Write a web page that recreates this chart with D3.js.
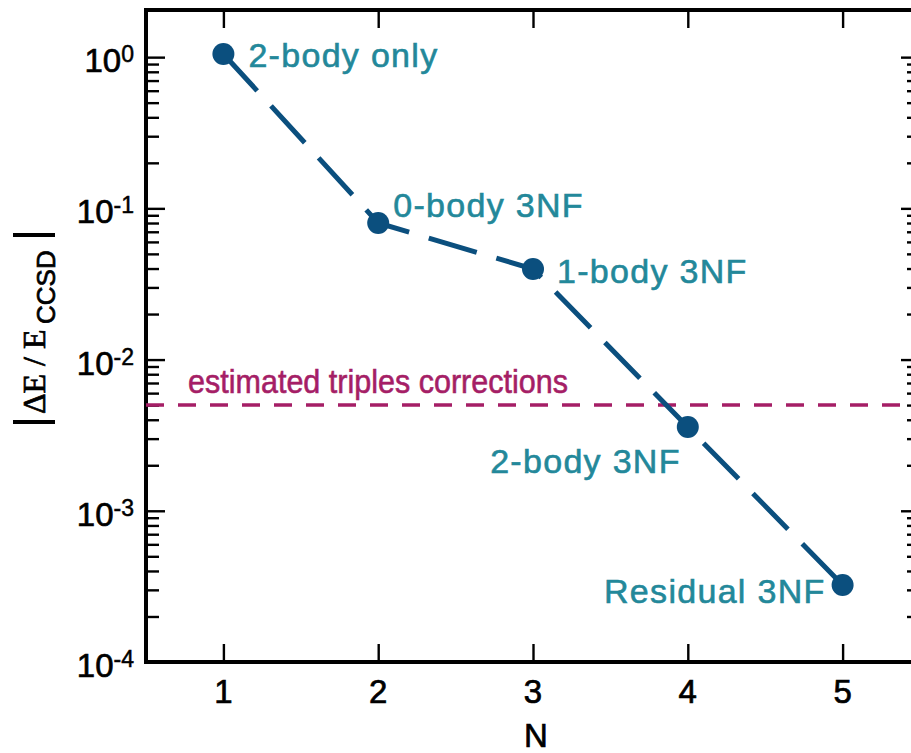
<!DOCTYPE html>
<html>
<head>
<meta charset="utf-8">
<script src="https://cdn.jsdelivr.net/npm/d3@7"></script>
<style>
  html, body { margin: 0; padding: 0; background: #fff; }
  svg { display: block; }
</style>
</head>
<body>
<svg id="chart" width="911" height="753"></svg>
<script>
// Relative energy error vs. number of retained 3NF terms
const categories = [1, 2, 3, 4, 5];
const values = [1.05, 0.080, 0.0397, 0.00358, 0.000323];
const pointLabels = ["2-body only", "0-body 3NF", "1-body 3NF", "2-body 3NF", "Residual 3NF"];
const triplesLevel = 0.005;
const triplesLabel = "estimated triples corrections";
const xTickValues = [1, 2, 3, 4, 5];
const yTickExponents = [0, -1, -2, -3, -4];

// Label placement relative to each marker (pixels)
const labelPlacement = [
  { dx: 25, dy: 13, anchor: "start" },
  { dx: 15, dy: -6, anchor: "start" },
  { dx: 24, dy: 14, anchor: "start" },
  { dx: -7, dy: 46, anchor: "end" },
  { dx: -17, dy: 18, anchor: "end" }
];

const plot = { left: 146, right: 920, top: 10, bottom: 662 };
const lineColor = "#0b4f7e";
const labelColor = "#23889a";
const triplesColor = "#a51e66";
const sans = "Liberation Sans, Arial, sans-serif";
const serif = "Liberation Serif, Times New Roman, serif";

const svg = d3.select("#chart");

const x = d3.scaleLinear().domain([0.5, 5.5]).range([plot.left, plot.right]);
const y = d3.scaleLog().domain([1e-4, 2.05]).range([plot.bottom, plot.top]);

// Minor + major log ticks up to 10^0
const yTicks = y.ticks().filter(v => v <= 1.0001);
const isMajor = v => Math.abs(Math.log10(v) - Math.round(Math.log10(v))) < 1e-6;

const axisG = svg.append("g").attr("class", "axes");

function styleTicks(g, majorLen, minorLen, dir) {
  g.select(".domain").remove();
  g.selectAll(".tick text").remove();
  g.selectAll(".tick line")
    .attr("stroke", "#000")
    .attr("stroke-width", 2.4)
    .each(function(d) {
      const len = isMajor(d) ? majorLen : minorLen;
      d3.select(this).attr("x2", dir * len);
    });
}

// Left axis, ticks pointing inward
axisG.append("g")
  .attr("transform", `translate(${plot.left},0)`)
  .call(d3.axisRight(y).tickValues(yTicks).tickFormat(""))
  .call(g => styleTicks(g, 19, 13, 1));

// Right axis, ticks pointing inward
axisG.append("g")
  .attr("transform", `translate(${plot.right},0)`)
  .call(d3.axisLeft(y).tickValues(yTicks).tickFormat(""))
  .call(g => styleTicks(g, 19, 13, -1));

// Bottom axis, ticks pointing up
axisG.append("g")
  .attr("transform", `translate(0,${plot.bottom})`)
  .call(d3.axisTop(x).tickValues(xTickValues).tickSize(18).tickFormat(""))
  .call(g => {
    g.select(".domain").remove();
    g.selectAll(".tick line").attr("stroke", "#000").attr("stroke-width", 2.4);
  });

// Top axis, ticks pointing down
axisG.append("g")
  .attr("transform", `translate(0,${plot.top})`)
  .call(d3.axisBottom(x).tickValues(xTickValues).tickSize(18).tickFormat(""))
  .call(g => {
    g.select(".domain").remove();
    g.selectAll(".tick line").attr("stroke", "#000").attr("stroke-width", 2.4);
  });

// Frame
svg.append("rect")
  .attr("x", plot.left).attr("y", plot.top)
  .attr("width", plot.right - plot.left).attr("height", plot.bottom - plot.top)
  .attr("fill", "none").attr("stroke", "#000").attr("stroke-width", 4);

// X tick labels
svg.append("g").selectAll("text")
  .data(xTickValues)
  .join("text")
  .attr("x", d => x(d))
  .attr("y", plot.bottom + 41)
  .attr("text-anchor", "middle")
  .attr("font-family", sans)
  .attr("font-size", 33)
  .attr("fill", "#000")
  .attr("stroke", "#000").attr("stroke-width", 0.7)
  .text(d => d);

// Y tick labels as powers of ten
const yLab = svg.append("g").selectAll("text")
  .data(yTickExponents)
  .join("text")
  .attr("x", 134)
  .attr("y", d => y(Math.pow(10, d)) + 15)
  .attr("text-anchor", "end")
  .attr("font-family", sans)
  .attr("font-size", 33)
  .attr("fill", "#000")
  .attr("stroke", "#000").attr("stroke-width", 0.7);
yLab.append("tspan").text("10");
yLab.append("tspan")
  .attr("font-size", 23)
  .attr("dy", -10)
  .attr("stroke-width", 0.5)
  .text(d => (d < 0 ? "-" + (-d) : String(d)));

// X axis title
svg.append("text")
  .attr("x", (plot.left + plot.right) / 2 + 3)
  .attr("y", 747)
  .attr("text-anchor", "middle")
  .attr("font-family", sans)
  .attr("font-size", 33)
  .attr("fill", "#000")
  .attr("stroke", "#000").attr("stroke-width", 0.7)
  .text("N");

// Y axis title: |ΔE / E_CCSD|
const yTitle = svg.append("g").attr("transform", "translate(45,422) rotate(-90)");
yTitle.append("line").attr("x1", 0).attr("x2", 0).attr("y1", -32).attr("y2", 10)
  .attr("stroke", "#000").attr("stroke-width", 4);
yTitle.append("line").attr("x1", 187).attr("x2", 187).attr("y1", -32).attr("y2", 10)
  .attr("stroke", "#000").attr("stroke-width", 4);
const yt = yTitle.append("text").attr("fill", "#000")
  .attr("stroke", "#000").attr("stroke-width", 0.7);
yt.append("tspan")
  .attr("x", 8).attr("y", 0)
  .attr("font-family", serif)
  .attr("font-size", 32)
  .text("ΔE / E");
yt.append("tspan")
  .attr("x", 98).attr("y", 10)
  .attr("font-family", sans)
  .attr("font-size", 26)
  .text("CCSD");

// Triples-correction reference line
svg.append("line")
  .attr("x1", plot.left).attr("x2", plot.right)
  .attr("y1", y(triplesLevel)).attr("y2", y(triplesLevel))
  .attr("stroke", triplesColor)
  .attr("stroke-width", 3.5)
  .attr("stroke-dasharray", "18,14");

svg.append("text")
  .attr("x", plot.left + 42)
  .attr("y", y(triplesLevel) - 12)
  .attr("font-family", sans)
  .attr("font-size", 34)
  .attr("textLength", 380)
  .attr("lengthAdjust", "spacingAndGlyphs")
  .attr("fill", triplesColor)
  .attr("stroke", triplesColor).attr("stroke-width", 0.6)
  .text(triplesLabel);

// Data line
const pts = categories.map((c, i) => ({ n: c, v: values[i], label: pointLabels[i], place: labelPlacement[i] }));

svg.append("path")
  .datum(pts)
  .attr("d", d3.line().x(d => x(d.n)).y(d => y(d.v)))
  .attr("fill", "none")
  .attr("stroke", lineColor)
  .attr("stroke-width", 5)
  .attr("stroke-dasharray", "50,20.5");

svg.append("g").selectAll("circle")
  .data(pts)
  .join("circle")
  .attr("cx", d => x(d.n))
  .attr("cy", d => y(d.v))
  .attr("r", 11)
  .attr("fill", lineColor);

svg.append("g").selectAll("text")
  .data(pts)
  .join("text")
  .attr("x", d => x(d.n) + d.place.dx)
  .attr("y", d => y(d.v) + d.place.dy)
  .attr("text-anchor", d => d.place.anchor)
  .attr("font-family", sans)
  .attr("font-size", 34)
  .attr("letter-spacing", 1.3)
  .attr("fill", labelColor)
  .attr("stroke", labelColor).attr("stroke-width", 0.6)
  .text(d => d.label);
</script>
</body>
</html>
